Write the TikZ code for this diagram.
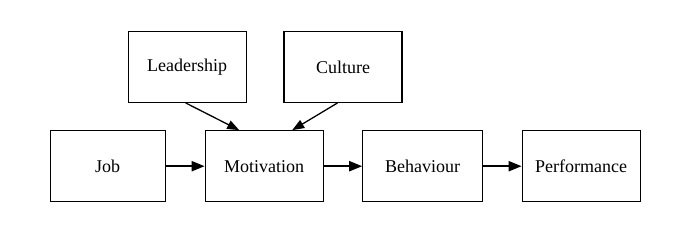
\documentclass[tikz,border=0pt]{standalone}
\usepackage{fontspec}
\setmainfont{Liberation Serif}
\usetikzlibrary{arrows.meta}
\begin{document}
\begin{tikzpicture}[x=1pt,y=-1pt,
  box/.style={draw, line width=1.1pt, minimum width=118pt, minimum height=71pt, inner sep=0pt, font=\fontsize{18}{22}\selectfont},
  flow/.style={line width=2pt, -{Triangle[length=13pt,width=10pt]}},
  infl/.style={line width=1.3pt, -{Triangle[length=12pt,width=9pt]}}]
\useasboundingbox (0,0) rectangle (680,236);
\node[box] (lead) at (187.2,66.9) {Leadership};
\node[box] (cult) at (343,66.9) {Culture};
\node[box, minimum width=115pt] (job) at (107.7,166.2) {Job};
\node[box] (mot) at (264.2,166.2) {Motivation};
\node[box, minimum width=119.5pt] (beh) at (422.5,166.2) {Behaviour};
\node[box] (perf) at (581.2,166.2) {Performance};
\draw[flow] (job) -- (mot);
\draw[flow] (mot) -- (beh);
\draw[flow] (beh) -- (perf);
\draw[infl] ([xshift=-1.5pt]lead.south) -- ([xshift=-25pt]mot.north);
\draw[infl] ([xshift=-5.5pt]cult.south) -- ([xshift=28pt]mot.north);
\end{tikzpicture}
\end{document}
